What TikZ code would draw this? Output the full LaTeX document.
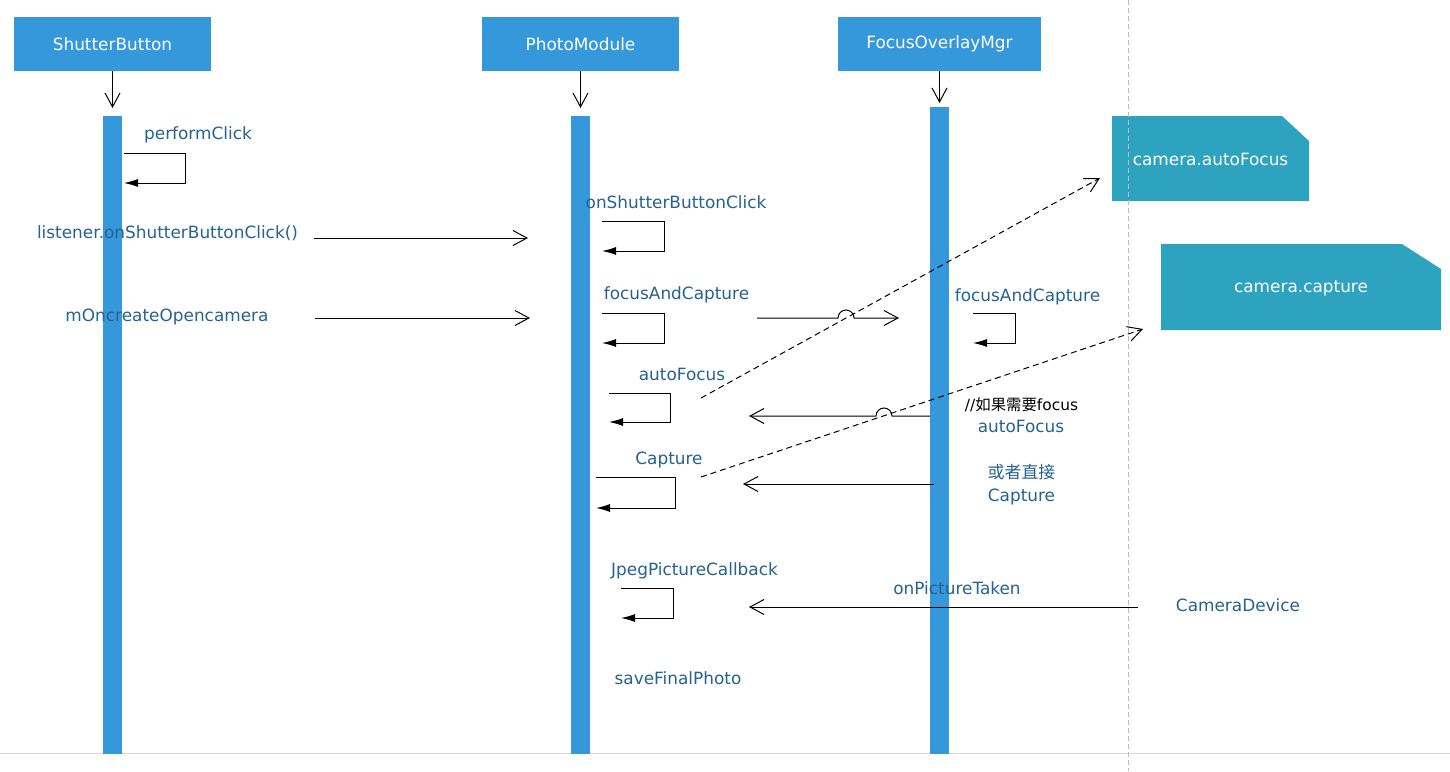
\documentclass[tikz,border=0pt]{standalone}
\usepackage{fontspec}
\setmainfont{DejaVu Sans}
\newfontfamily\cjkfont{Noto Sans CJK SC}
\usetikzlibrary{arrows.meta,backgrounds}
\definecolor{lifeblue}{HTML}{3598DB}
\definecolor{noteteal}{HTML}{2DA3BF}
\definecolor{labelblue}{HTML}{26628F}
\definecolor{framegray}{HTML}{BBBBBB}
\definecolor{floorgray}{HTML}{DADADA}
\tikzset{
  actor/.style={fill=lifeblue,text=white,minimum width=197pt,minimum height=54pt,inner sep=0pt,font=\fontsize{16.9}{20}\selectfont},
  bar/.style={fill=lifeblue,minimum width=19pt,inner sep=0pt,anchor=north},
  lbl/.style={text=labelblue,inner sep=0pt,font=\fontsize{16.9}{20}\selectfont},
  life/.style={-{Straight Barb[length=14pt,width=15pt]},line width=1pt},
  msg/.style={life},
  ret/.style={life,dash pattern=on 6pt off 4pt},
  selfcall/.style={-{Latex[length=14pt,width=8pt]},line width=1pt},
  notebox/.style={text=white,inner sep=0pt,font=\fontsize{16.9}{20}\selectfont},
}
\begin{document}
\begin{tikzpicture}[x=1pt,y=-1pt]
  \useasboundingbox (0,0) rectangle (1450,771);
  \draw[floorgray,line width=1pt] (0,753) -- (1450,753);
  \draw[framegray,line width=1pt,dash pattern=on 5pt off 3pt] (1128,0) -- (1128,771);
  \node[actor] (sb) at (112.5,44) {ShutterButton};
  \node[actor] (pm) at (580.5,44) {PhotoModule};
  \node[actor,minimum width=203pt] (fo) at (939.5,44) {FocusOverlayMgr};
  \node[bar,minimum height=638pt] (sbBar) at (112.5,116) {};
  \node[bar,minimum height=638pt] (pmBar) at (580.5,116) {};
  \node[bar,minimum height=647pt] (foBar) at (939.5,107) {};
  \draw[life] (sb.south) -- ([yshift=8pt]sbBar.north);
  \draw[life] (pm.south) -- ([yshift=8pt]pmBar.north);
  \draw[life] (fo.south) -- ([yshift=4pt]foBar.north);
  \node[notebox] (af) at (1210.5,159) {camera.autoFocus};
  \node[notebox] (cc) at (1301,288) {camera.capture};
  \begin{scope}[on background layer]
    \fill[noteteal] (1112,201) -- (1112,116) -- (1282,116) -- (1309,141) -- (1309,201) -- cycle;
    \fill[noteteal] (1161,330) -- (1161,244) -- (1402,244) -- (1441,269) -- (1441,330) -- cycle;
  \end{scope}
  \node[lbl] (l1) at (198,134.5) {performClick};
  \node[lbl] (l2) at (167.5,233.5) {listener.onShutterButtonClick()};
  \node[lbl] (l3) at (167,316.5) {mOncreateOpencamera};
  \node[lbl] (l4) at (676,202.5) {onShutterButtonClick};
  \node[lbl] (l5) at (676.5,294.5) {focusAndCapture};
  \node[lbl] (l6) at (682,374.5) {autoFocus};
  \node[lbl] (l7) at (669,459.5) {Capture};
  \node[lbl] (l8) at (694.5,570.5) {JpegPictureCallback};
  \node[lbl] (l9) at (678,678.5) {saveFinalPhoto};
  \node[lbl] (l10) at (1027.5,296.5) {focusAndCapture};
  \node[lbl,text=black,font=\fontsize{15.4}{18}\selectfont] (l11) at (1021.5,405) {//{\cjkfont 如果需要}focus};
  \node[lbl] (l12) at (1021,426.5) {autoFocus};
  \node[lbl] (l13) at (1021.5,472) {\cjkfont 或者直接};
  \node[lbl] (l14) at (1021.5,496.5) {Capture};
  \node[lbl] (l15) at (957,588.5) {onPictureTaken};
  \node[lbl] (l16) at (1238,605.5) {CameraDevice};
  \foreach \n/\x/\y/\w/\h in {sc1/124/153/61/30,sc2/602/221/62/30,sc3/602/313/62/30,sc4/609/393/61/29,sc5/596/477/79/31,sc6/621/588/52/30,sc7/973/313/42/30}
    {\coordinate (\n) at (\x,\y); \draw[selfcall] (\n) -- ++(\w,0) -- ++(0,\h) -- ++(-\w,0);}
  \coordinate (m1s) at (314,238); \coordinate (m1e) at (528,238);
  \coordinate (m2s) at (315,318); \coordinate (m2e) at (530,318);
  \coordinate (m3s) at (757,318); \coordinate (m3e) at (899,318);
  \coordinate (m4s) at (930,416); \coordinate (m4e) at (749,416);
  \coordinate (m5s) at (934,484); \coordinate (m5e) at (743,484);
  \coordinate (m6s) at (1138,607); \coordinate (m6e) at (749,607);
  \foreach \a/\b in {m1s/m1e,m2s/m2e,m5s/m5e,m6s/m6e} \draw[msg] (\a) -- (\b);
  \draw[msg] (m3s) -- (838,318) arc[start angle=180,end angle=0,radius=8pt] -- (m3e);
  \draw[msg] (m4s) -- (892,416) arc[start angle=0,end angle=180,radius=8pt] -- (m4e);
  \coordinate (r1s) at (701,398); \coordinate (r1e) at (1100,178);
  \coordinate (r2s) at (701,477); \coordinate (r2e) at (1143,329);
  \foreach \a/\b in {r1s/r1e,r2s/r2e} \draw[ret] (\a) -- (\b);
\end{tikzpicture}
\end{document}
